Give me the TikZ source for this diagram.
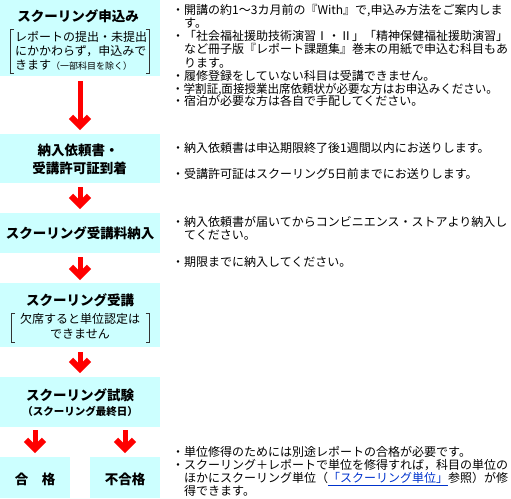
\documentclass[tikz,border=0pt]{standalone}
\usepackage{fontspec}
\setmainfont{Noto Sans CJK JP}
\usetikzlibrary{calc}
\definecolor{boxcyan}{HTML}{CCFFFF}
\definecolor{arrowred}{HTML}{FF0000}
\definecolor{linkblue}{HTML}{0033CC}
\definecolor{bracketgray}{HTML}{333333}
\tikzset{
  flowbox/.style={fill=boxcyan, draw=none, inner sep=0pt, outer sep=0pt, anchor=north west},
  ttl/.style={font=\fontsize{13.5}{15}\selectfont\bfseries, inner sep=0pt, text height=11.9pt, text depth=1.6pt},
  subttl/.style={font=\fontsize{10.5}{12}\selectfont\bfseries, inner sep=0pt, text height=9.2pt, text depth=1.3pt},
  boxnote/.style={font=\fontsize{12}{13}\selectfont, inner sep=0pt, text height=10.4pt, text depth=1.6pt},
  note/.style={font=\fontsize{12}{13}\selectfont, anchor=west, inner sep=0pt, text height=10.4pt, text depth=1.6pt},
  arrowshaft/.style={draw=arrowred, line width=5pt},
  arrowhead/.style={draw=arrowred, line width=6pt, line join=miter, miter limit=10},
  bracketline/.style={draw=bracketgray, line width=0.9pt},
}
\newcommand{\flowarrow}[2]{%
  \draw[arrowshaft] (#1) -- ($(#2)+(0,-6)$);
  \draw[arrowhead] ($(#2)+(-9,-13.2)$) -- ($(#2)+(0,-4.2)$) -- ($(#2)+(9,-13.2)$);}
\begin{document}
\begin{tikzpicture}[x=1pt,y=-1pt]
\useasboundingbox (0,0) rectangle (511,498);
% boxes
\node[flowbox, minimum width=160pt, minimum height=76pt] (b1) at (0,0) {};
\node[flowbox, minimum width=160pt, minimum height=49pt] (b2) at (0,134) {};
\node[flowbox, minimum width=160pt, minimum height=40pt] (b3) at (0,213) {};
\node[flowbox, minimum width=160pt, minimum height=64pt] (b4) at (0,283) {};
\node[flowbox, minimum width=160pt, minimum height=50pt] (b5) at (0,377) {};
\node[flowbox, minimum width=70pt, minimum height=41pt] (b6) at (0,457) {};
\node[flowbox, minimum width=70pt, minimum height=41pt] (b7) at (90,457) {};
% box texts
\node[ttl] (h1) at (78,16) {スクーリング申込み};
\node[boxnote, anchor=west] (n11) at (15,37) {レポートの提出・未提出};
\node[boxnote, anchor=west] (n12) at (15,51) {にかかわらず，申込みで};
\node[boxnote, anchor=west] (n13) at (15,65) {きます{\fontsize{9}{10}\selectfont（一部科目を除く）}};
\draw[bracketline] (14,29) -- (10.5,29) -- (10.5,73) -- (14,73);
\draw[bracketline] (145.5,29) -- (149,29) -- (149,73) -- (145.5,73);
\node[ttl] (h2a) at (78,150) {納入依頼書・};
\node[ttl] (h2b) at (79.5,168) {受講許可証到着};
\node[ttl] (h3) at (80,233) {スクーリング受講料納入};
\node[ttl] (h4) at (80,300) {スクーリング受講};
\node[boxnote] (n41) at (80,319) {欠席すると単位認定は};
\node[boxnote] (n42) at (80,334) {できません};
\draw[bracketline] (15,313) -- (11.5,313) -- (11.5,342) -- (15,342);
\draw[bracketline] (145.5,313) -- (149,313) -- (149,342) -- (145.5,342);
\node[ttl] (h5) at (80,395) {スクーリング試験};
\node[subttl] (h5b) at (80,412) {（スクーリング最終日）};
\node[ttl] (h6) at (35,479) {合　格};
\node[ttl] (h7) at (125,479) {不合格};
% arrows
\path (b1.south) ++(0,5) coordinate (a1s);
\path (b2.north) ++(0,-4) coordinate (a1e);
\path (b2.south) ++(0,4) coordinate (a2s);
\path (b3.north) ++(0,-4) coordinate (a2e);
\path (b3.south) ++(0,4) coordinate (a3s);
\path (b4.north) ++(0,-3) coordinate (a3e);
\path (b4.south) ++(0,5) coordinate (a4s);
\path (b5.north) ++(0,-4) coordinate (a4e);
\path (b6.north |- b5.south) ++(0,3) coordinate (a5s);
\path (b6.north) ++(0,-4) coordinate (a5e);
\path (b7.north |- b5.south) ++(0,3) coordinate (a6s);
\path (b7.north) ++(0,-4) coordinate (a6e);
\flowarrow{a1s}{a1e}
\flowarrow{a2s}{a2e}
\flowarrow{a3s}{a3e}
\flowarrow{a4s}{a4e}
\flowarrow{a5s}{a5e}
\flowarrow{a6s}{a6e}
% right column notes
\node[note] (t1) at (172,10) {・開講の約1～3カ月前の『With』で,申込み方法をご案内しま};
\node[note] (t2) at (184,23) {す。};
\node[note] (t3) at (172,36) {・「社会福祉援助技術演習Ⅰ・Ⅱ」「精神保健福祉援助演習」};
\node[note] (t4) at (184,49.5) {など冊子版『レポート課題集』巻末の用紙で申込む科目もあ};
\node[note] (t5) at (184,63) {ります。};
\node[note] (t6) at (172,76) {・履修登録をしていない科目は受講できません。};
\node[note] (t7) at (172,89) {\scalebox{0.96}[1]{・学割証,面接授業出席依頼状が必要な方はお申込みください。}};
\node[note] (t8) at (172,101) {・宿泊が必要な方は各自で手配してください。};
\node[note] (t9) at (172,148) {・納入依頼書は申込期限終了後1週間以内にお送りします。};
\node[note] (t10) at (172,174) {・受講許可証はスクーリング5日前までにお送りします。};
\node[note] (t11) at (172,222) {・納入依頼書が届いてからコンビニエンス・ストアより納入し};
\node[note] (t12) at (184,235) {てください。};
\node[note] (t13) at (172,262) {・期限までに納入してください。};
\node[note] (t14) at (172,452) {・単位修得のためには別途レポートの合格が必要です。};
\node[note] (t15) at (172,465) {・スクーリング＋レポートで単位を修得すれば，科目の単位の};
\node[note] (t16) at (184,478) {ほかにスクーリング単位（{\color{linkblue}\underline{「スクーリング単位」}}参照）が修};
\node[note] (t17) at (184,491) {得できます。};
\end{tikzpicture}
\end{document}
